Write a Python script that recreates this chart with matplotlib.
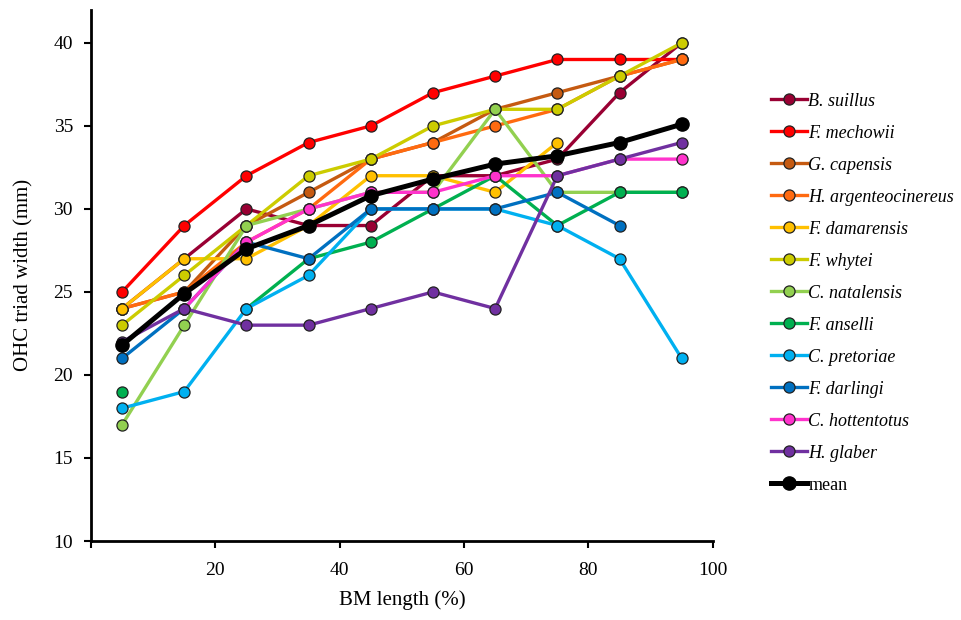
import numpy as np
import matplotlib
matplotlib.use('Agg')
import matplotlib.pyplot as plt

nan = np.nan

# BM length positions (%)
bm_length = [5, 15, 25, 35, 45, 55, 65, 75, 85, 95]

# OHC triad width (mm) per species
species = ['B. suillus', 'F. mechowii', 'G. capensis', 'H. argenteocinereus',
           'F. damarensis', 'F. whytei', 'C. natalensis', 'F. anselli',
           'C. pretoriae', 'F. darlingi', 'C. hottentotus', 'H. glaber']

b_suillus = [24, 27, 30, 29, 29, 32, 32, 33, 37, 40]
f_mechowii = [25, 29, 32, 34, 35, 37, 38, 39, 39, 39]
g_capensis = [24, 25, 29, 31, 33, 34, 36, 37, 38, 39]
h_argenteocinereus = [24, 25, 28, 30, 33, 34, 35, 36, 38, 39]
f_damarensis = [24, 27, 27, 29, 32, 32, 31, 34, nan, nan]
f_whytei = [23, 26, 29, 32, 33, 35, 36, 36, 38, 40]
c_natalensis = [17, 23, 29, 30, 31, 31, 36, 31, 31, 31]
f_anselli = [19, nan, 24, 27, 28, 30, 32, 29, 31, 31]
c_pretoriae = [18, 19, 24, 26, 30, 30, 30, 29, 27, 21]
f_darlingi = [21, 24, 28, 27, 30, 30, 30, 31, 29, nan]
c_hottentotus = [nan, 24, 28, 30, 31, 31, 32, 32, 33, 33]
h_glaber = [22, 24, 23, 23, 24, 25, 24, 32, 33, 34]
mean = [21.8, 24.9, 27.6, 29.0, 30.8, 31.8, 32.7, 33.2, 34.0, 35.1]

series = [b_suillus, f_mechowii, g_capensis, h_argenteocinereus, f_damarensis,
          f_whytei, c_natalensis, f_anselli, c_pretoriae, f_darlingi,
          c_hottentotus, h_glaber]
colors = ['#990033', '#FF0000', '#C55A11', '#FF6A10', '#FFC000', '#CCCC00',
          '#92D050', '#00B050', '#00B0F0', '#0070C0', '#FF33CC', '#7030A0']

plt.rcParams['font.family'] = ['Liberation Serif', 'DejaVu Serif']

fig = plt.figure(figsize=(9.61, 6.2), dpi=100)
ax = fig.add_axes([0.0947, 0.1274, 0.647, 0.857])

for name, vals, c in zip(species, series, colors):
    ax.plot(bm_length, vals, '-o', color=c, lw=2.4, ms=8,
            markerfacecolor=c, markeredgecolor='#222222', markeredgewidth=0.9,
            label=name)
ax.plot(bm_length, mean, '-o', color='black', lw=3.6, ms=9.5,
        markeredgecolor='black', label='mean')

ax.set_xlim(0, 100)
ax.set_ylim(10, 42)
ax.set_xticks([0, 20, 40, 60, 80, 100])
ax.set_xticklabels(['', '20', '40', '60', '80', '100'])
ax.set_yticks([10, 15, 20, 25, 30, 35, 40])
ax.tick_params(direction='out', length=5, width=1.5, labelsize=14)
ax.tick_params(axis='x', pad=10)
ax.tick_params(axis='y', pad=8)
for s in ['top', 'right']:
    ax.spines[s].set_visible(False)
for s in ['left', 'bottom']:
    ax.spines[s].set_linewidth(2)

ax.set_xlabel('BM length (%)', fontsize=15, labelpad=8)
ax.set_ylabel('OHC triad width (mm)', fontsize=15, labelpad=14)

leg = fig.legend(loc='upper left', bbox_to_anchor=(0.795, 0.862), frameon=False,
                 fontsize=13, handlelength=2.0, handletextpad=0.05,
                 labelspacing=0.83, borderaxespad=0)
for t in leg.get_texts():
    if t.get_text() != 'mean':
        t.set_fontstyle('italic')

fig.savefig('out.png', dpi=100)
